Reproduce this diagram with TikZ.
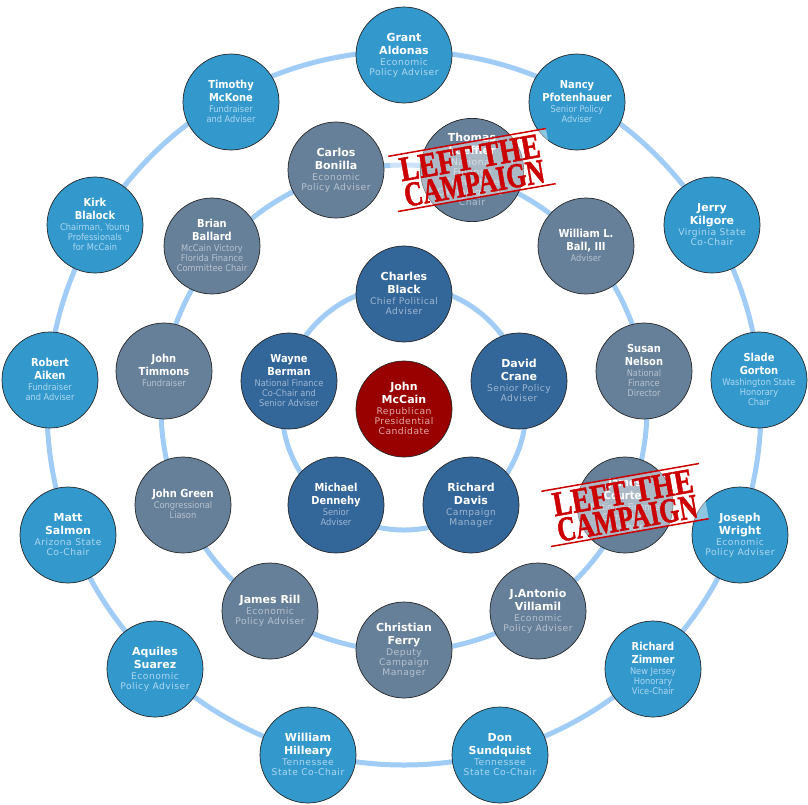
\documentclass[tikz,border=0pt]{standalone}
\usepackage{fontspec}
\setmainfont{DejaVu Sans}
\newfontfamily\trackfont[LetterSpace=5]{DejaVu Sans}
\newfontfamily\condfont{DejaVu Sans Condensed}
\newfontfamily\stampfont[BoldFeatures={FakeBold=1.5}]{Liberation Serif}
\usepackage{graphicx}
\usepackage{xcolor}

\definecolor{outerblue}{RGB}{51,153,204}
\definecolor{midgray}{RGB}{102,128,153}
\definecolor{innerblue}{RGB}{51,102,153}
\definecolor{mccainred}{RGB}{153,0,0}
\definecolor{ringline}{RGB}{160,204,245}
\definecolor{stampred}{RGB}{204,0,0}
\definecolor{outersub}{RGB}{172,215,240}
\definecolor{midsub}{RGB}{182,194,208}
\definecolor{innersub}{RGB}{158,182,210}
\definecolor{redsub}{RGB}{225,170,170}
\colorlet{subc}{white}

\newcommand\namefont{\bfseries\fontsize{11}{13.3}\selectfont}
\newcommand\subfont{\fontsize{9.2}{9.8}\selectfont\color{subc}}
% name lines, then the job lines
\newcommand\who[2]{{\namefont\begin{tabular}{@{}c@{}}#1\end{tabular}}\\[-1pt]{\trackfont\subfont\begin{tabular}{@{}c@{}}#2\end{tabular}}}
% same, narrow letters
\newcommand\whoc[2]{{\condfont\namefont\begin{tabular}{@{}c@{}}#1\end{tabular}}\\[-1pt]{\condfont\subfont\begin{tabular}{@{}c@{}}#2\end{tabular}}}

\begin{document}
\begin{tikzpicture}[x=1pt, y=-1pt,
    person/.style={circle, draw=black!85, line width=0.7pt, minimum size=96pt, inner sep=0pt, align=center, text=white},
    outerp/.style={person, fill=outerblue, execute at begin node={\colorlet{subc}{outersub}}},
    midp/.style={person, fill=midgray, execute at begin node={\colorlet{subc}{midsub}}},
    innerp/.style={person, fill=innerblue, execute at begin node={\colorlet{subc}{innersub}}},
    redp/.style={person, fill=mccainred, execute at begin node={\colorlet{subc}{redsub}}},
    ring/.style={draw=ringline, line width=5pt},
    stampband/.style={fill=white, fill opacity=0.45},
    stampline/.style={draw=stampred, line width=1.5pt},
    stamptext/.style={text=stampred, inner sep=0pt, font=\stampfont\bfseries, transform shape}]
    \useasboundingbox (0,0) rectangle (808,804);

    % rings
    \coordinate (hub) at (404,408);
    \draw[ring] (hub) circle[radius=122pt];
    \draw[ring] (hub) circle[radius=243pt];
    \draw[ring] (hub) circle[radius=357pt];

    % center
    \node[redp] (mccain) at (404,409) {\who{John\\McCain}{Republican\\Presidential\\Candidate}};

    % inner ring
    \node[innerp] (black) at (404,294) {\who{Charles\\Black}{Chief Political\\Adviser}};
    \node[innerp] (crane) at (519,381) {\who{David\\Crane}{Senior Policy\\Adviser}};
    \node[innerp] (davis) at (471,505) {\who{Richard\\Davis}{Campaign\\Manager}};
    \node[innerp] (dennehy) at (336,505) {\whoc{Michael\\Dennehy}{Senior\\Adviser}};
    \node[innerp] (berman) at (289,381) {\whoc{Wayne\\Berman}{National Finance\\Co-Chair and\\Senior Adviser}};

    % middle ring
    \node[midp] (bonilla) at (336,170) {\who{Carlos\\Bonilla}{Economic\\Policy Adviser}};
    \node[midp] (loeffler) at (472,170) {\who{Thomas\\Loeffler}{National\\Finance\\Committee\\Campaign Co-\\Chair}};
    \node[midp] (ball) at (586,246) {\whoc{William L.\\Ball, III}{Adviser}};
    \node[midp] (nelson) at (644,371) {\whoc{Susan\\Nelson}{National\\Finance\\Director}};
    \node[midp] (courter) at (625,505) {\whoc{James\\Courter}{National Finance\\Committee\\Co-Chair}};
    \node[midp] (villamil) at (538,611) {\who{J.Antonio\\Villamil}{Economic\\Policy Adviser}};
    \node[midp] (ferry) at (404,650) {\who{Christian\\Ferry}{Deputy\\Campaign\\Manager}};
    \node[midp] (rill) at (270,611) {\who{James Rill}{Economic\\Policy Adviser}};
    \node[midp] (green) at (183,505) {\whoc{John Green}{Congressional\\Liason}};
    \node[midp] (timmons) at (164,371) {\whoc{John\\Timmons}{Fundraiser}};
    \node[midp] (ballard) at (212,246) {\whoc{Brian\\Ballard}{McCain Victory\\Florida Finance\\Committee Chair}};

    % outer ring
    \node[outerp] (aldonas) at (404,55) {\who{Grant\\Aldonas}{Economic\\Policy Adviser}};
    \node[outerp] (pfotenhauer) at (577,102) {\whoc{Nancy\\Pfotenhauer}{Senior Policy\\Adviser}};
    \node[outerp] (kilgore) at (712,225) {\who{Jerry\\Kilgore}{Virginia State\\Co-Chair}};
    \node[outerp] (gorton) at (759,380) {\whoc{Slade\\Gorton}{Washington State\\Honorary\\Chair}};
    \node[outerp] (wright) at (740,535) {\who{Joseph\\Wright}{Economic\\Policy Adviser}};
    \node[outerp] (zimmer) at (653,669) {\whoc{Richard\\Zimmer}{New Jersey\\Honorary\\Vice-Chair}};
    \node[outerp] (sundquist) at (500,755) {\who{Don\\Sundquist}{Tennessee\\State Co-Chair}};
    \node[outerp] (hilleary) at (308,755) {\who{William\\Hilleary}{Tennessee\\State Co-Chair}};
    \node[outerp] (suarez) at (155,669) {\who{Aquiles\\Suarez}{Economic\\Policy Adviser}};
    \node[outerp] (salmon) at (68,535) {\who{Matt\\Salmon}{Arizona State\\Co-Chair}};
    \node[outerp] (aiken) at (50,380) {\whoc{Robert\\Aiken}{Fundraiser\\and Adviser}};
    \node[outerp] (blalock) at (95,225) {\whoc{Kirk\\Blalock}{Chairman, Young\\Professionals\\for McCain}};
    \node[outerp] (mckone) at (231,102) {\whoc{Timothy\\McKone}{Fundraiser\\and Adviser}};

    % stamps
    \foreach \gone in {loeffler,courter} {
        \begin{scope}[shift={(\gone.center)}, rotate=10]
            \fill[stampband] (-80,-28) rectangle (80,28);
            \draw[stampline] (-80,-28) -- (80,-28);
            \draw[stampline] (-80,28) -- (80,28);
            \node[stamptext] (\gone-left) at (0,-12.5) {\resizebox{142pt}{23pt}{LEFT THE}};
            \node[stamptext] (\gone-camp) at (0,13.5) {\resizebox{142pt}{23pt}{CAMPAIGN}};
        \end{scope}
    }
\end{tikzpicture}
\end{document}
